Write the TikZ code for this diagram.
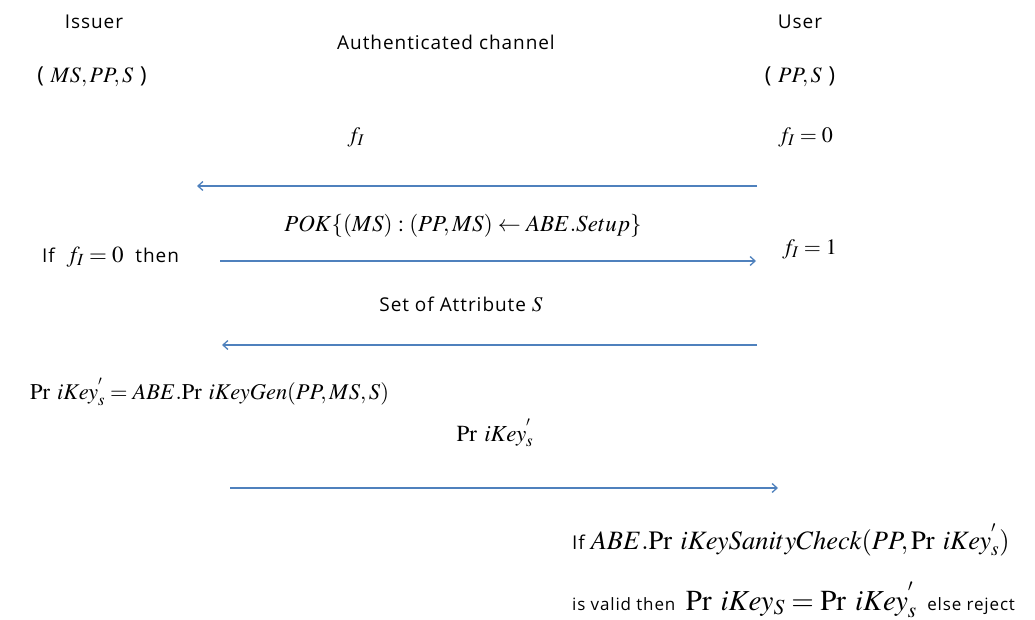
\documentclass[tikz,border=0pt]{standalone}
\usepackage{mathptmx}
\usepackage[no-math]{fontspec}
\setmainfont[LetterSpace=5]{Open Sans}
\usetikzlibrary{arrows.meta}
\definecolor{arrowblue}{HTML}{4F81BD}
\newcommand{\fsz}[1]{\fontsize{#1}{#1}\selectfont}
\newcommand{\PrK}{\mathrm{Pr}\ iKey}
\tikzset{
  lbl/.style={inner sep=0pt, font=\fsz{19}},
  mth/.style={inner sep=0pt, font=\fsz{22}},
  msg/.style={draw=arrowblue, line width=1.3pt, -{Straight Barb[length=5pt,width=9pt]}}
}
\begin{document}
\begin{tikzpicture}[x=1pt,y=-1pt]
\useasboundingbox (0,0) rectangle (1035,620);
\node[lbl] (issuer) at (94,22) {Issuer};
\node[lbl] (chan) at (446,42) {Authenticated channel};
\node[lbl] (user) at (800,22) {User};
\node[mth] (ikeys) at (92,77) {( $MS,PP,S$ )};
\node[mth] (ukeys) at (800,77) {( $PP,S$ )};
\node[mth] (f1) at (356,137) {$f_I$};
\node[mth, anchor=west] (f0) at (778,137) {$f_I=0$};
\coordinate (a1s) at (757,186);
\coordinate (a1e) at (197,186);
\draw[msg] (a1s) -- (a1e);
\node[mth, font=\fsz{23}] (pok) at (463,226) {$POK\{(MS):(PP,MS)\leftarrow ABE.Setup\}$};
\node[lbl, anchor=west] (iff) at (42,257) {If\ \ \fsz{23}$f_I=0$\fsz{19}\ \ then};
\node[mth, anchor=west] (f1b) at (782,249) {$f_I=1$};
\coordinate (a2s) at (220,261);
\coordinate (a2e) at (756,261);
\draw[msg] (a2s) -- (a2e);
\node[lbl] (attr) at (461,304) {Set of Attribute {\fsz{21}$S$}};
\coordinate (a3s) at (757,345);
\coordinate (a3e) at (222,345);
\draw[msg] (a3s) -- (a3e);
\node[mth, anchor=west, font=\fsz{22.5}] (gen) at (30,392) {$\PrK_s^{'}=ABE.\PrK Gen(PP,MS,S)$};
\node[mth, font=\fsz{23}] (key) at (495,433) {$\PrK_s^{'}$};
\coordinate (a4s) at (230,488);
\coordinate (a4e) at (778,488);
\draw[msg] (a4s) -- (a4e);
\node[lbl, anchor=west] (chk) at (572,540) {If \fsz{26.5}$ABE.\PrK SanityCheck(PP,\PrK_s^{'})$};
\node[lbl, anchor=west, font=\fsz{17}] (res) at (572,600) {is valid then\ \ \fsz{29}$\PrK_S=\PrK_s^{'}$\fsz{17}\ \ else reject};
\end{tikzpicture}
\end{document}
